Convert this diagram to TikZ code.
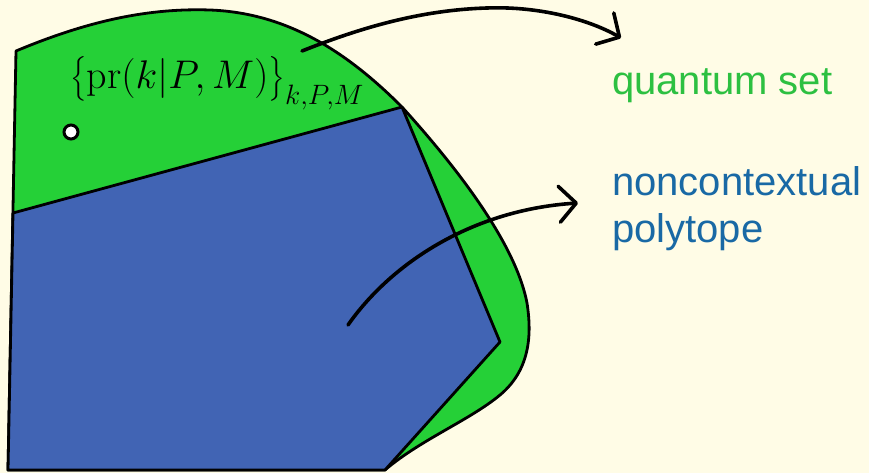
\RequirePackage{fix-cm}
\documentclass[tikz,border=0pt]{standalone}
\usepackage{fontspec}
\usepackage{amsmath}
\newfontfamily\arialf{Liberation Sans}
\usetikzlibrary{arrows.meta}
\definecolor{bgcol}{RGB}{255,252,230}
\definecolor{qgreen}{RGB}{37,208,55}
\definecolor{qtext}{RGB}{45,192,65}
\definecolor{pblue}{RGB}{65,100,180}
\definecolor{ptext}{RGB}{25,105,165}
\tikzset{
  outline/.style={draw=black, line width=2.8pt, line join=round},
  pointer/.style={draw=black, line width=3.6pt, line cap=round,
    -{Straight Barb[length=17pt,width=36pt,line width=3.6pt,round]}},
  sidelabel/.style={anchor=base west, inner sep=0pt, font=\arialf\fontsize{40}{47}\selectfont},
}
\begin{document}
\begin{tikzpicture}[x=1pt,y=-1pt]
\fill[bgcol] (0,0) rectangle (869,473);
\useasboundingbox (0,0) rectangle (869,473);
% quantum set
\path[outline, fill=qgreen] (8,470) -- (16,51)
  .. controls (90,20) and (150,8) .. (210,10)
  .. controls (290,13) and (350,55) .. (402,107)
  .. controls (450,160) and (515,240) .. (527,303)
  .. controls (532,335) and (530,370) .. (500,395)
  .. controls (470,420) and (420,440) .. (385,470)
  -- cycle;
% noncontextual polytope
\path[outline, fill=pblue] (13,213) -- (402,107) -- (500,342) -- (385,470) -- (8,470) -- cycle;
% point
\node[circle, draw=black, line width=3pt, fill=white, minimum size=14pt, inner sep=0pt] (pt) at (71,132) {};
% formula
\node[anchor=base west, inner sep=0pt] (formula) at (70,89)
  {\fontsize{40}{48}\selectfont $\big\{\mathrm{pr}(k|P,M)\big\}_{k,P,M}$};
% labels
\node[sidelabel, text=qtext] (qlabel) at (612,95) {quantum set};
\node[sidelabel, text=ptext] (nclabel1) at (612,195) {noncontextual};
\node[sidelabel, text=ptext] (nclabel2) at (612,242) {polytope};
% connectors
\coordinate (a1s) at (302,51);
\coordinate (a1m) at (487,8);
\coordinate (a1e) at (621,38);
\draw[pointer] (a1s) .. controls (360,28) and (420,10) .. (a1m) .. controls (540,6) and (590,20) .. (a1e);
\coordinate (a2s) at (348,325);
\coordinate (a2e) at (578,203);
\draw[pointer] (a2s) .. controls (390,265) and (470,210) .. (a2e);
\end{tikzpicture}
\end{document}
